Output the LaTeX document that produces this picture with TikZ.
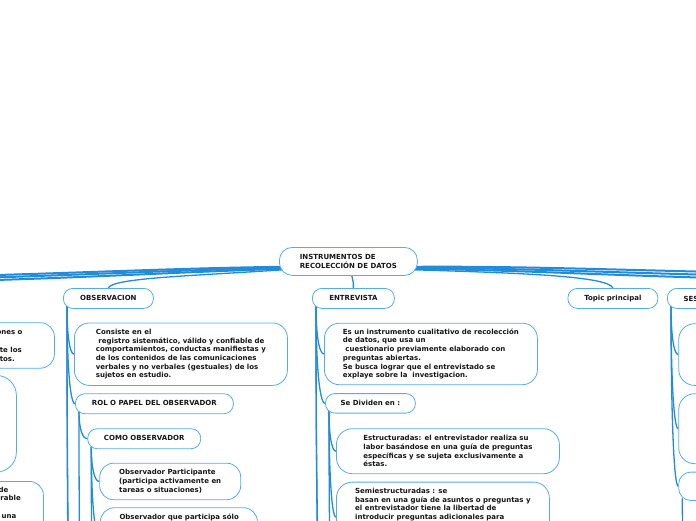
\documentclass[tikz,border=0pt]{standalone}
\usepackage{fontspec}
\setmainfont{DejaVu Sans}
\usetikzlibrary{calc}
\definecolor{bord}{RGB}{86,172,232}
\definecolor{linec}{RGB}{34,140,216}
\definecolor{txtc}{RGB}{22,22,22}
\newcommand{\fs}{\fontsize{7}{8.7}\selectfont\bfseries}
\pgfdeclarelayer{bg}
\pgfsetlayers{bg,main}
\tikzset{
  shapebox/.style={draw=bord, line width=0.8pt, fill=white, anchor=north west, inner sep=0pt, font=\fs, text=txtc},
  pill/.style={shapebox, rounded corners=9.5pt, align=center, text height=5.3pt, text depth=0.8pt},
  card/.style={shapebox, rounded corners=14pt, align=left},
  frag/.style={inner sep=0pt, font=\fs, text=txtc},
  link/.style={draw=linec, line width=1.3pt, line cap=round},
  rootlink/.style={draw=linec, line width=2pt, line cap=round},
  vbranch/.style={to path={.. controls ($(\tikztostart)!0.55!(\tikztostart|-\tikztotarget)$) and ($(\tikztostart|-\tikztotarget)!0.35!(\tikztotarget)$) .. (\tikztotarget)}},
}
\begin{document}
\begin{tikzpicture}[x=1pt,y=-1pt]
\useasboundingbox (0,0) rectangle (696,520);
\clip (0,0) rectangle (696,520);

% ---------- nodes ----------
\node[card, align=left, minimum width=138pt, minimum height=28pt, rounded corners=13pt] (root) at (279,247) {INSTRUMENTOS DE\\RECOLECCIÓN DE DATOS};

\node[pill, minimum width=90pt, minimum height=20pt] (obs) at (63,288) {OBSERVACION};
\node[pill, minimum width=82pt, minimum height=20pt] (ent) at (312,288) {ENTREVISTA};
\node[pill, minimum width=90pt, minimum height=20pt] (topic) at (567.5,288) {Topic principal};
\node[pill, minimum width=90pt, minimum height=20pt] (ses) at (667,288) {};
\node[frag, anchor=base west] (ses-t) at (683.3,301) {SES};

% left partial nodes
\node[card, minimum width=200pt, minimum height=45.5pt] (l1) at (-146,322.3) {};
\node[frag, anchor=base east] (l1a) at (22.7,334.7) {ones o};
\node[frag, anchor=base east] (l1b) at (22,352.3) {te los};
\node[frag, anchor=base east] (l1c) at (15,361.1) {tos.};
\node[card, minimum width=200pt, minimum height=96.7pt, rounded corners=20pt] (l2) at (-184,375) {};
\node[card, minimum width=200pt, minimum height=80pt] (l3) at (-157,481) {};
\node[frag, anchor=base east] (l3a) at (8.5,492) {de};
\node[frag, anchor=base east] (l3b) at (21,500.7) {orable};
\node[frag, anchor=base east] (l3c) at (16.5,518.1) {una};

% observacion branch
\node[card, minimum width=213pt, minimum height=62.5pt, rounded corners=15pt] (cons) at (74,322.5) {Consiste en el\\\hspace*{2.5pt}registro sistemático, válido y confiable de\\comportamientos, conductas manifiestas y\\de los contenidos de las comunicaciones\\verbales y no verbales (gestuales) de los\\sujetos en estudio.};
\node[pill, minimum width=158pt, minimum height=20pt] (rol) at (75,393.3) {ROL O PAPEL DEL OBSERVADOR};
\node[pill, minimum width=113pt, minimum height=20pt] (como) at (87.3,428.3) {COMO OBSERVADOR};
\node[card, minimum width=141pt, minimum height=36.5pt] (opart) at (99.3,462.8) {Observador Participante\\(participa activamente en\\tareas o situaciones)};
\node[card, minimum width=157pt, minimum height=60pt] (oque) at (100,507.3) {};
\node[frag, anchor=base west] (oque-t) at (119.3,519.3) {Observador que participa sólo};

% entrevista branch
\node[card, minimum width=213pt, minimum height=61.5pt, rounded corners=15pt] (esun) at (324,322.8) {Es un instrumento cualitativo de recolección\\de datos, que usa un\\\hspace*{2.5pt}cuestionario previamente elaborado con\\preguntas abiertas.\\Se busca lograr que el entrevistado se\\explaye sobre la\ \ investigacion.};
\node[pill, minimum width=90pt, minimum height=19.5pt] (sediv) at (325,393.2) {Se Dividen en :};
\node[card, minimum width=223pt, minimum height=45pt, rounded corners=16pt] (estr) at (336,428.3) {Estructuradas: el entrevistador realiza su\\labor basándose en una guía de preguntas\\específicas y se sujeta exclusivamente a\\éstas.};
\node[card, minimum width=213pt, minimum height=70pt, rounded corners=16pt] (semi) at (336,481.7) {};
\node[frag, anchor=north west, align=left] (semi-t) at (355,486.3) {\rule{0pt}{7pt}Semiestructuradas : se\\basan en una guía de asuntos o preguntas y\\el entrevistador tiene la libertad de\\introducir preguntas adicionales para};

% right partial nodes
\node[card, minimum width=100pt, minimum height=61.7pt, rounded corners=16pt] (r1) at (678.3,323.3) {};
\node[card, minimum width=100pt, minimum height=70pt, rounded corners=16pt] (r2) at (678.3,393.3) {};
\node[card, minimum width=100pt, minimum height=28.3pt, rounded corners=12pt] (r3) at (678.3,471.7) {};

% ---------- connectors ----------
\coordinate (offL1) at (-40,276);
\coordinate (offL2) at (-40,278.5);
\coordinate (offL3) at (-40,281);
\coordinate (offR1) at (740,272.5);
\coordinate (offR2) at (740,275.5);
\coordinate (offR3) at (740,278.5);
\coordinate (obsoff1) at (69.5,600);
\coordinate (obsoff2) at (71.5,620);
\coordinate (roloff) at (81,600);
\coordinate (comooff) at (93,600);
\coordinate (entoff1) at (320,600);
\coordinate (entoff2) at (322,620);
\coordinate (sedoff) at (332,600);
\coordinate (r3off) at (688,580);

\begin{pgfonlayer}{bg}
\draw[rootlink] ($(root.south west)+(4,-9)$) .. controls (180,268) and (80,273) .. (offL1);
\draw[rootlink] ($(root.south west)+(4,-8)$) .. controls (180,270) and (80,275) .. (offL2);
\draw[rootlink] ($(root.south west)+(4,-7)$) .. controls (180,272) and (80,278) .. (offL3);
\draw[rootlink] ($(root.south east)+(-4,-9)$) .. controls (520,266) and (620,270) .. (offR1);
\draw[rootlink] ($(root.south east)+(-4,-8)$) .. controls (520,268) and (620,273) .. (offR2);
\draw[rootlink] ($(root.south east)+(-4,-7)$) .. controls (520,270) and (620,276) .. (offR3);
\draw[link] ($(root.south west)+(4,-6)$) .. controls (190,276) and (112,278) .. (obs.north);
\draw[link] ($(root.south)+(3,-2)$) .. controls ($(root.south)+(5,7)$) and ($(ent.north)+(0,-6)$) .. (ent.north);
\draw[link] ($(root.south east)+(-4,-6)$) .. controls (520,273) and (608,276) .. (topic.north);

\draw[link] ($(obs.south west)+(4,-2)$) to[vbranch] (cons.west);
\draw[link] ($(obs.south west)+(4,-2)$) to[vbranch] (rol.west);
\draw[link] ($(obs.south west)+(4,-2)$) to[vbranch] (obsoff1);
\draw[link] ($(obs.south west)+(4,-2)$) to[vbranch] (obsoff2);
\draw[link] ($(rol.south west)+(4,-2)$) to[vbranch] (como.west);
\draw[link] ($(rol.south west)+(4,-2)$) to[vbranch] (roloff);
\draw[link] ($(como.south west)+(4,-2)$) to[vbranch] (opart.west);
\draw[link] ($(como.south west)+(4,-2)$) to[vbranch] (oque.west);
\draw[link] ($(como.south west)+(4,-2)$) to[vbranch] (comooff);

\draw[link] ($(ent.south west)+(4,-2)$) to[vbranch] (esun.west);
\draw[link] ($(ent.south west)+(4,-2)$) to[vbranch] (sediv.west);
\draw[link] ($(ent.south west)+(4,-2)$) to[vbranch] (entoff1);
\draw[link] ($(ent.south west)+(4,-2)$) to[vbranch] (entoff2);
\draw[link] ($(sediv.south west)+(4,-2)$) to[vbranch] (estr.west);
\draw[link] ($(sediv.south west)+(4,-2)$) to[vbranch] (semi.west);
\draw[link] ($(sediv.south west)+(4,-2)$) to[vbranch] (sedoff);

\draw[link] ($(ses.south west)+(4,-2)$) to[vbranch] (r1.west);
\draw[link] ($(ses.south west)+(4,-2)$) to[vbranch] (r2.west);
\draw[link] ($(ses.south west)+(4,-2)$) to[vbranch] (r3.west);
\draw[link] ($(r3.south west)+(4,-2)$) to[vbranch] (r3off);
\end{pgfonlayer}
\end{tikzpicture}
\end{document}
